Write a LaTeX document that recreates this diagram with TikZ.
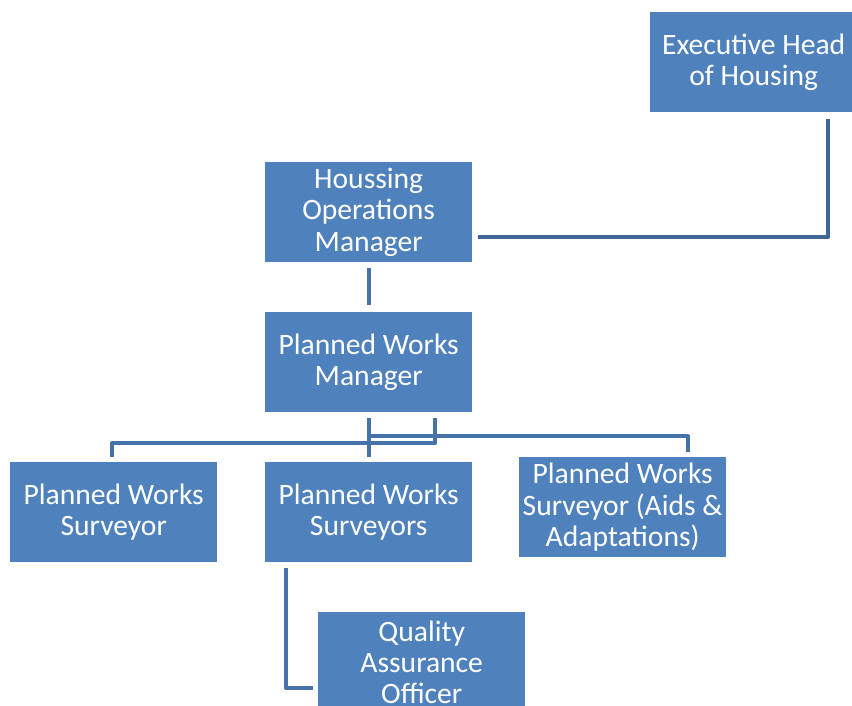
\documentclass[tikz,border=0pt]{standalone}
\usepackage{fontspec}
\setmainfont{Carlito}
\definecolor{boxblue}{HTML}{4F81BD}
\definecolor{lineblue}{HTML}{4672AA}
\definecolor{topline}{HTML}{3F6597}
\begin{document}
\begin{tikzpicture}[x=1pt,y=-1pt,
  box/.style={fill=boxblue, text=white, minimum width=207pt, minimum height=100pt,
    inner sep=0pt, align=center, anchor=north west,
    font=\fontsize{29.6}{31.3}\selectfont},
  link/.style={draw=lineblue, line width=4pt, line join=round},
  toplink/.style={link, draw=topline}]
\useasboundingbox (0,0) rectangle (852,705);
\clip (0,0) rectangle (852,705);

% boxes
\node[box] (exec) at (650,12) {Executive Head\\of Housing};
\node[box] (hom)  at (265,162) {Houssing\\Operations\\Manager};
\node[box] (pwm)  at (265,312) {Planned Works\\Manager};
\node[box] (pws)  at (10,462)  {Planned Works\\Surveyor};
\node[box] (pwss) at (265,462) {Planned Works\\Surveyors};
\node[box] (aids) at (519,457) {Planned Works\\Surveyor (Aids \&\\Adaptations)};
\node[box] (qa)   at (318,612) {Quality\\Assurance\\Officer};

% connectors
\coordinate (pwmL) at ([yshift=-6pt]pwm.south);
\draw[toplink] ([xshift=178pt,yshift=-7pt]exec.south west) |- ([xshift=6pt,yshift=-25pt]hom.east);
\draw[link] ([yshift=-6pt]hom.south) -- ([yshift=7pt]pwm.north);
\draw[link] (pwmL) -- ([yshift=5pt]pwss.north);
\draw[link] ([xshift=66pt]pwmL) -- ++(0,25) -| ([xshift=102pt,yshift=5pt]pws.north west);
\draw[link] (pwmL) -- ++(0,18) -| ([xshift=169pt,yshift=5pt]aids.north west);
\draw[link] ([xshift=21pt,yshift=-6pt]pwss.south west) |- ([xshift=-5pt,yshift=-26pt]qa.west);
\end{tikzpicture}
\end{document}
